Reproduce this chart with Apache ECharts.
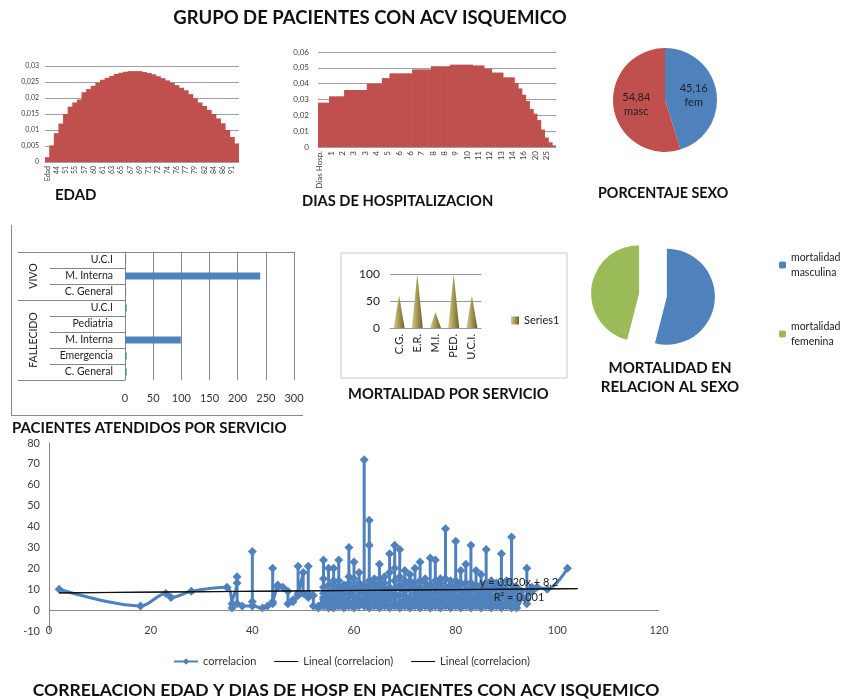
<!DOCTYPE html>
<html><head><meta charset="utf-8">
<script src="https://cdn.jsdelivr.net/npm/echarts@6/dist/echarts.min.js"></script>
<style>html,body{margin:0;padding:0;background:#fff}#c{width:841px;height:700px}</style>
</head><body><div id="c"></div>
<script>
// ---------- DATA ----------
const edadCats = ['Edad','40','44','48','51','53','55','56','57','58','60','60','61','62','63','64','65','66','67','68','69','70','71','71','72','73','74','75','76','76','77','78','79','80','82','83','84','85','86','88','91','93'];
const edadVals = [0.0015,0.0052,0.009,0.012,0.015,0.0173,0.0186,0.0195,0.0218,0.0228,0.0238,0.0248,0.0257,0.0263,0.0269,0.0275,0.0279,0.0282,0.0284,0.0284,0.0284,0.0281,0.0278,0.0274,0.0268,0.0262,0.0255,0.0247,0.024,0.0232,0.0224,0.0212,0.0199,0.0186,0.0175,0.0163,0.015,0.0136,0.0121,0.01,0.0078,0.0058];
const diasCats = ['Dias Hosp.','1','1','1','1','2','2','2','2','3','3','3','3','3','3','4','4','4','5','5','5','6','6','6','6','6','7','7','7','8','8','8','8','8','9','9','9','9','10','10','10','11','11','11','12','12','12','13','13','13','14','14','15','15','16','17','18','20','21','24','25','28','30'];
const diasVals = [0.028,0.028,0.028,0.032,0.032,0.032,0.032,0.036,0.036,0.036,0.036,0.036,0.036,0.040,0.040,0.040,0.040,0.0435,0.0435,0.0465,0.0465,0.0465,0.0465,0.0465,0.0465,0.049,0.049,0.049,0.049,0.049,0.051,0.051,0.051,0.051,0.051,0.052,0.052,0.052,0.052,0.052,0.052,0.0515,0.0515,0.0515,0.0495,0.0495,0.047,0.047,0.047,0.044,0.044,0.044,0.0405,0.037,0.033,0.029,0.024,0.021,0.017,0.011,0.006,0.003,0.001];
const sexoNames = ['fem','masc'];
const sexoVals = [45.16, 54.84];
const servCats = ['U.C.I','M. Interna','C. General','U.C.I','Pediatria','M. Interna','Emergencia','C. General'];
const servVals = [2, 240, 2, 3, 0, 99, 3, 3];
const servGroups = ['VIVO','FALLECIDO'];
const servGroupSizes = [3, 5];
const servTicks = [0, 50, 100, 150, 200, 250, 300];
const mortCats = ['C.G.','E.R.','M.I.','PED.','U.C.I.'];
const mortVals = [60, 100, 29, 100, 60];
const mortSexoNames = ['mortalidad\nmasculina','mortalidad\nfemenina'];
const mortSexoVals = [54, 46];
const corrEdad = [2,18,23,24,28,35,36,37,38,40,42,43,44,45,46,47,48,49,50,51,52,53,
  54,55,56,57,58,59,60,61,62,63,64,65,66,67,68,69,70,71,72,73,74,75,76,77,78,79,80,
  81,82,83,84,85,86,87,88,89,90,91,92,93,94,95,96,98,102];
const corrDias = [[10],[2],[8],[6],[9],[11],[1,3],[13,16,3],[2],[2,28,4],[1],[2],[3,20,4],[12,11],[11],[9,3],[5,4],[8,21,7],[18,8],[6,21,8],[7,2],[1,2],
  [5,24,15,3,8,11,2,6],[2,20,9,4,12,7,1],[12,20,3,7,1,10,5,14],[6,24,14,2,9,4,11,7],[3,10,5,1,12,8,4],[8,30,16,2,6,11,3,13],
  [4,23,11,1,15,7,10,3],[3,18,9,2,13,6,11,5],[5,72,10,2,8,12,4],[14,43,31,6,1,9,12,3],[3,15,7,2,11,5,13,8],[6,22,12,1,8,4,10,15],
  [10,16,3,7,13,2,9,5],[2,27,9,5,18,1,11,7],[8,31,14,3,20,6,10,2],[4,29,11,1,16,7,12,3],[7,19,3,12,2,9,14,5],[5,17,10,1,14,6,12,3],
  [3,20,8,13,2,6,11,4],[9,23,4,11,1,7,14,5],[6,15,2,10,7,13,3,9],[3,25,12,1,8,5,11,6],[10,24,5,14,2,8,12,4],[4,13,8,1,11,6,15,3],
  [6,39,9,2,15,3,11,7],[8,12,1,10,5,14,3,9],[3,33,14,2,7,11,5,10],[9,19,4,12,1,7,13,5],[5,22,10,3,8,13,2,6],[2,31,13,6,1,9,11,4],
  [7,19,4,10,2,12,6,9],[3,17,9,1,12,5,8,4],[6,29,11,2,8,13,4,10],[4,14,1,9,3,11,6],[7,12,2,10,5,13,3],[1,27,8,3,12,6,10],
  [6,10,2,14,4,9],[1,35,9,2,7,12,5],[5,11,3,8,1],[6,9],[3,20,5],[11,9],[11],[10],[20]];
const trendSlope = 0.020, trendIntercept = 8.2, trendR2 = 0.001;
const trendRange = [2, 104];

// ---------- BUILD ----------
const FONT = 'Lato, "Open Sans", sans-serif';
const BLUE = '#4F81BD', RED = '#C0504D', GREEN = '#9BBB59';
const comma = v => String(+(+v).toFixed(3)).replace('.', ',');
const corrData = [];
corrEdad.forEach((a, i) => corrDias[i].forEach(d => corrData.push([a, d])));
const trendData = trendRange.map(x => [x, trendSlope * x + trendIntercept]);
const bounds = [0];
servGroupSizes.forEach(s => bounds.push(bounds[bounds.length - 1] + s));
const mids = servGroupSizes.map((s, i) => bounds[i] + s / 2);
const fmtNum = (v, d) => v.toFixed(d).replace('.', ',');
const LINE_ICON = 'path://M0,0H30V1.4H0Z';

const chart = echarts.init(document.getElementById('c'), null, {renderer: 'canvas'});
const lbl = (size, extra) => Object.assign({fontSize: size, color: '#404040', fontFamily: FONT}, extra || {});
const titleTxt = (text, x, y, align, size) => ({type: 'text', x, y, silent: true,
  style: {text, fontSize: size || 15, fontWeight: 'bold', fontFamily: FONT, fill: '#111', align: align || 'left', verticalAlign: 'middle'}});

const option = {
  animation: false,
  textStyle: {fontFamily: FONT},
  grid: [
    {left: 45, top: 66, width: 194, height: 96},
    {left: 318, top: 52, width: 238, height: 95},
    {left: 125, top: 252, width: 169, height: 128},
    {left: 390, top: 274, width: 91, height: 54},
    {left: 49, top: 443, width: 610, height: 188}
  ],
  xAxis: [
    {gridIndex: 0, type: 'category', data: edadCats, axisTick: {show: false}, axisLine: {show: false},
      axisLabel: lbl(7, {rotate: 90, interval: 1, margin: 4})},
    {gridIndex: 1, type: 'category', data: diasCats, axisTick: {show: false}, axisLine: {show: false},
      axisLabel: lbl(8, {rotate: 90, interval: 2, margin: 4})},
    {gridIndex: 2, type: 'value', min: servTicks[0], max: servTicks[servTicks.length - 1], interval: servTicks[1] - servTicks[0],
      axisLine: {show: true, lineStyle: {color: '#888'}}, axisTick: {show: false},
      splitLine: {show: true, lineStyle: {color: '#888'}}, axisLabel: lbl(11, {margin: 13, color: '#333'})},
    {gridIndex: 3, type: 'category', data: mortCats, axisTick: {show: false}, axisLine: {lineStyle: {color: '#999'}},
      axisLabel: lbl(11, {rotate: 90, margin: 6, color: '#222'})},
    {gridIndex: 4, type: 'value', min: 0, max: 120, interval: 20, axisLine: {show: false}, axisTick: {show: false},
      splitLine: {show: false}, axisLabel: lbl(11, {margin: -6})}
  ],
  yAxis: [
    {gridIndex: 0, type: 'value', min: 0, max: 0.03, interval: 0.005, axisLine: {show: false}, axisTick: {show: false},
      splitLine: {lineStyle: {color: '#a0a0a0'}}, axisLabel: lbl(7, {formatter: comma, margin: 6})},
    {gridIndex: 1, type: 'value', min: 0, max: 0.06, interval: 0.01, axisLine: {show: false}, axisTick: {show: false},
      splitLine: {lineStyle: {color: '#a0a0a0'}}, axisLabel: lbl(8, {formatter: comma, margin: 9})},
    {gridIndex: 2, type: 'category', data: servCats, inverse: true, axisLine: {show: true, lineStyle: {color: '#888'}},
      axisTick: {show: true, interval: 0, length: 75, lineStyle: {color: '#888'}},
      axisLabel: lbl(10.5, {interval: 0, margin: 12, color: '#222'})},
    {gridIndex: 2, type: 'value', min: 0, max: bounds[bounds.length - 1], inverse: true, position: 'left',
      axisLine: {show: false}, splitLine: {show: false},
      axisTick: {show: true, customValues: bounds, length: 107, lineStyle: {color: '#888'}},
      axisLabel: lbl(10.5, {customValues: mids, rotate: 90, margin: 86, color: '#222',
        formatter: v => servGroups[mids.indexOf(v)] || ''})},
    {gridIndex: 3, type: 'value', min: 0, max: 100, interval: 50, axisLine: {show: false}, axisTick: {show: false},
      splitLine: {lineStyle: {color: '#999'}}, axisLabel: lbl(12, {margin: 10, color: '#222'})},
    {gridIndex: 4, type: 'value', min: -10, max: 80, interval: 10, axisLine: {show: true, lineStyle: {color: '#888'}},
      axisTick: {show: false}, splitLine: {show: false}, axisLabel: lbl(11, {margin: 9})}
  ],
  legend: [
    {data: [{name: 'Series1', icon: 'rect'}], left: 506, top: 310, itemWidth: 8, itemHeight: 8, itemGap: 4,
      textStyle: lbl(11, {color: '#222'}), selectedMode: false},
    {data: mortSexoNames, orient: 'vertical', left: 774, top: 245, itemWidth: 7, itemHeight: 7, itemGap: 39,
      textStyle: lbl(10.5, {color: '#222', lineHeight: 15}), selectedMode: false},
    {data: ['correlacion', {name: 'Lineal (correlacion)', icon: LINE_ICON}, {name: 'Lineal (correlacion) ', icon: LINE_ICON}],
      left: 168, top: 651, itemWidth: 24, itemHeight: 8, itemGap: 18, textStyle: lbl(11, {color: '#333'}), selectedMode: false}
  ],
  series: [
    {type: 'bar', xAxisIndex: 0, yAxisIndex: 0, data: edadVals, barWidth: '118%',
      itemStyle: {color: RED}},
    {type: 'bar', xAxisIndex: 1, yAxisIndex: 1, data: diasVals, barWidth: '118%',
      itemStyle: {color: RED}},
    {type: 'pie', center: [665, 100], radius: 52, startAngle: 90, clockwise: true,
      data: sexoNames.map((n, i) => ({name: n, value: sexoVals[i]})),
      color: [BLUE, RED], itemStyle: {borderWidth: 0},
      label: {show: true, position: 'inside', fontSize: 11, color: '#222', lineHeight: 14, fontFamily: FONT,
        formatter: p => fmtNum(p.value, 2) + '\n' + p.name}, labelLine: {show: false}},
    {type: 'bar', xAxisIndex: 2, yAxisIndex: 2, data: servVals, barWidth: 7, itemStyle: {color: BLUE}},
    {type: 'pictorialBar', name: 'Series1', xAxisIndex: 3, yAxisIndex: 4, data: mortVals, symbol: 'triangle',
      symbolSize: [11, '100%'], itemStyle: {color: new echarts.graphic.LinearGradient(0, 0, 1, 0, [
        {offset: 0, color: '#d6cc95'}, {offset: 0.45, color: '#a89c55'}, {offset: 1, color: '#6b6230'}])}},
    {type: 'pie', center: [653, 295], radius: 48, startAngle: 90, clockwise: true,
      selectedMode: 'multiple', selectedOffset: 14,
      data: mortSexoNames.map((n, i) => ({name: n, value: mortSexoVals[i], selected: true})),
      color: [BLUE, GREEN], itemStyle: {borderWidth: 0}, label: {show: false}, labelLine: {show: false},
      emphasis: {disabled: true}},
    {type: 'line', name: 'correlacion', xAxisIndex: 4, yAxisIndex: 5, data: corrData, smooth: 0.35,
      symbol: 'diamond', symbolSize: 9, color: BLUE, lineStyle: {width: 3, color: BLUE}, itemStyle: {color: BLUE},
      markLine: {silent: true, symbol: 'none', label: {show: false}, lineStyle: {color: '#888', width: 1, type: 'solid'},
        data: [{yAxis: 0}]}},
    {type: 'line', name: 'Lineal (correlacion)', xAxisIndex: 4, yAxisIndex: 5, data: trendData, symbol: 'none',
      color: '#111', lineStyle: {width: 1.3, color: '#111'}, z: 5},
    {type: 'line', name: 'Lineal (correlacion) ', xAxisIndex: 4, yAxisIndex: 5, data: trendData, symbol: 'none',
      color: '#111', lineStyle: {width: 1, color: '#111'}, z: 5}
  ],
  graphic: [
    titleTxt('GRUPO DE PACIENTES CON ACV ISQUEMICO', 370, 18, 'center', 18.5),
    titleTxt('EDAD', 55, 195),
    titleTxt('DIAS DE HOSPITALIZACION', 302, 201, 'left', 14.7),
    titleTxt('PORCENTAJE SEXO', 598, 193, 'left', 14.3),
    titleTxt('PACIENTES ATENDIDOS POR SERVICIO', 12, 428),
    titleTxt('MORTALIDAD POR SERVICIO', 348, 394, 'left', 14.7),
    titleTxt('MORTALIDAD EN', 670, 368, 'center'),
    titleTxt('RELACION AL SEXO', 670, 387, 'center'),
    titleTxt('CORRELACION EDAD Y DIAS DE HOSP EN PACIENTES CON ACV ISQUEMICO', 346, 690, 'center', 17.5),
    {type: 'rect', shape: {x: 341, y: 253, width: 226, height: 125}, silent: true, z: -1,
      style: {fill: 'none', stroke: '#c8c8c8', lineWidth: 1}},
    {type: 'polyline', shape: {points: [[11.5, 225], [11.5, 415.5], [303, 415.5]]}, silent: true,
      style: {fill: 'none', stroke: '#888', lineWidth: 1}},
    {type: 'text', x: 519, y: 582, silent: true, z: 10, style: {text: 'y = ' + fmtNum(trendSlope, 3) + 'x + ' + fmtNum(trendIntercept, 1),
      fontSize: 11, fontFamily: FONT, fill: '#222', align: 'center', verticalAlign: 'middle'}},
    {type: 'text', x: 519, y: 597, silent: true, z: 10, style: {text: 'R² = ' + fmtNum(trendR2, 3),
      fontSize: 11, fontFamily: FONT, fill: '#222', align: 'center', verticalAlign: 'middle'}}
  ]
};
chart.setOption(option);
</script>
</body></html>
